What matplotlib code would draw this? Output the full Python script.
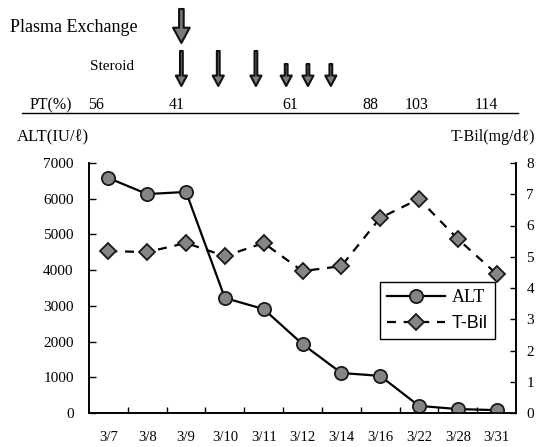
import matplotlib
matplotlib.use("Agg")
import matplotlib.pyplot as plt
from matplotlib.transforms import blended_transform_factory
from matplotlib.lines import Line2D

plt.rcParams['font.family'] = ['Liberation Serif', 'DejaVu Serif']

dates = ["3/7", "3/8", "3/9", "3/10", "3/11", "3/12", "3/14", "3/16", "3/22", "3/28", "3/31"]
alt = [6580, 6130, 6190, 3220, 2910, 1930, 1120, 1040, 200, 110, 80]
tbil = [5.18, 5.15, 5.44, 5.02, 5.44, 4.54, 4.70, 6.24, 6.85, 5.57, 4.45]

pt_values = ["56", "41", "61", "88", "103", "114"]
pt_x = [-0.33, 1.75, 4.68, 6.76, 7.94, 9.74]
plasma_x = [1.88]
steroid_long_x = [1.88, 2.83, 3.80]
steroid_short_x = [4.58, 5.14, 5.73]

W, H = 537, 447
fig = plt.figure(figsize=(W / 100, H / 100), dpi=100)
ax = fig.add_axes([89 / W, 1 - 413 / H, 427 / W, 250 / H])
ax2 = ax.twinx()

x = list(range(len(dates)))
ax.plot(x, alt, color='black', lw=1.6, marker='o', ms=9.5, mfc='#858585', mec='#1a1a1a', mew=1.3, zorder=3)
ax2.plot(x, tbil, color='black', lw=1.6, ls=(0, (4, 3.5)), marker='D', ms=8.5, mfc='#858585', mec='#1a1a1a', mew=1.3, zorder=3)

ax.set_xlim(-0.5, len(dates) - 0.5)
ax.set_ylim(0, 7000)
ax2.set_ylim(0, 8)
ax.set_yticks(range(0, 7001, 1000))
ax2.set_yticks(range(0, 9))
ax.set_xticks(x)
ax.set_xticklabels(dates)
ax.set_xticks([i + 0.5 for i in x[:-1]], minor=True)

for a in (ax, ax2):
    a.spines['top'].set_visible(False)
    for s in a.spines.values():
        s.set_linewidth(1.2)
ax.tick_params(axis='x', which='major', length=0, pad=13, labelsize=10.5)
ax.tick_params(axis='x', which='minor', direction='in', length=4, width=1)
ax.tick_params(axis='y', direction='in', length=5, width=1, pad=11, labelsize=11)
ax2.tick_params(axis='y', direction='in', length=4, width=1, pad=7.5, labelsize=11)

handles = [
    Line2D([], [], color='black', lw=1.6, marker='o', ms=9.5, mfc='#858585', mec='#1a1a1a', mew=1.3),
    Line2D([], [], color='black', lw=1.6, ls=(0, (4, 3.5)), marker='D', ms=8.5, mfc='#858585', mec='#1a1a1a', mew=1.3),
]
leg = ax.legend(handles, ["ALT", "T-Bil"], loc='upper left', bbox_to_anchor=(0.681, 0.524),
                borderaxespad=0, fancybox=False, edgecolor='black', framealpha=1, fontsize=13,
                handlelength=3.2, borderpad=0.4, labelspacing=0.5, handletextpad=0.4)
leg.get_frame().set_linewidth(1.0)
leg.get_texts()[1].set_family(['Liberation Sans', 'DejaVu Sans'])

fig.text(17 / W, 1 - 137 / H, "ALT(IU/ℓ)", fontsize=12, va='center', ha='left')
fig.text(535 / W, 1 - 137 / H, "T-Bil(mg/dℓ)", fontsize=11.5, va='center', ha='right')

# top annotations
trans = blended_transform_factory(ax.transData, fig.transFigure)
fig.text(10 / W, 1 - 27 / H, "Plasma Exchange", fontsize=13, va='center', ha='left')
fig.text(90 / W, 1 - 67 / H, "Steroid", fontsize=11, va='center', ha='left')
fig.text(30 / W, 1 - 105 / H, "PT(%)", fontsize=11.5, va='center', ha='left')
for v, px in zip(pt_values, pt_x):
    ax.text(px, 1 - 105 / H, v, transform=trans, fontsize=11.5, va='center', ha='center')
fig.add_artist(Line2D([22 / W, 518 / W], [1 - 113 / H, 1 - 113 / H], color='black', lw=1.0))


def arrow(xd, y0, y1, hw, hl, tw):
    ax.annotate("", xy=(xd, 1 - y1 / H), xytext=(xd, 1 - y0 / H), xycoords=trans, textcoords=trans,
                annotation_clip=False,
                arrowprops=dict(arrowstyle=f"simple,head_length={hl},head_width={hw},tail_width={tw}",
                                fc='#7a7a7a', ec='#111111', lw=1.5, shrinkA=0, shrinkB=0, mutation_scale=10))


for xd in plasma_x:
    arrow(xd, 9, 43, 1.2, 1.1, 0.33)
for xd in steroid_long_x:
    arrow(xd, 51, 86, 0.8, 0.75, 0.2)
for xd in steroid_short_x:
    arrow(xd, 64, 86, 0.8, 0.75, 0.2)

fig.savefig("out.png", dpi=100)
